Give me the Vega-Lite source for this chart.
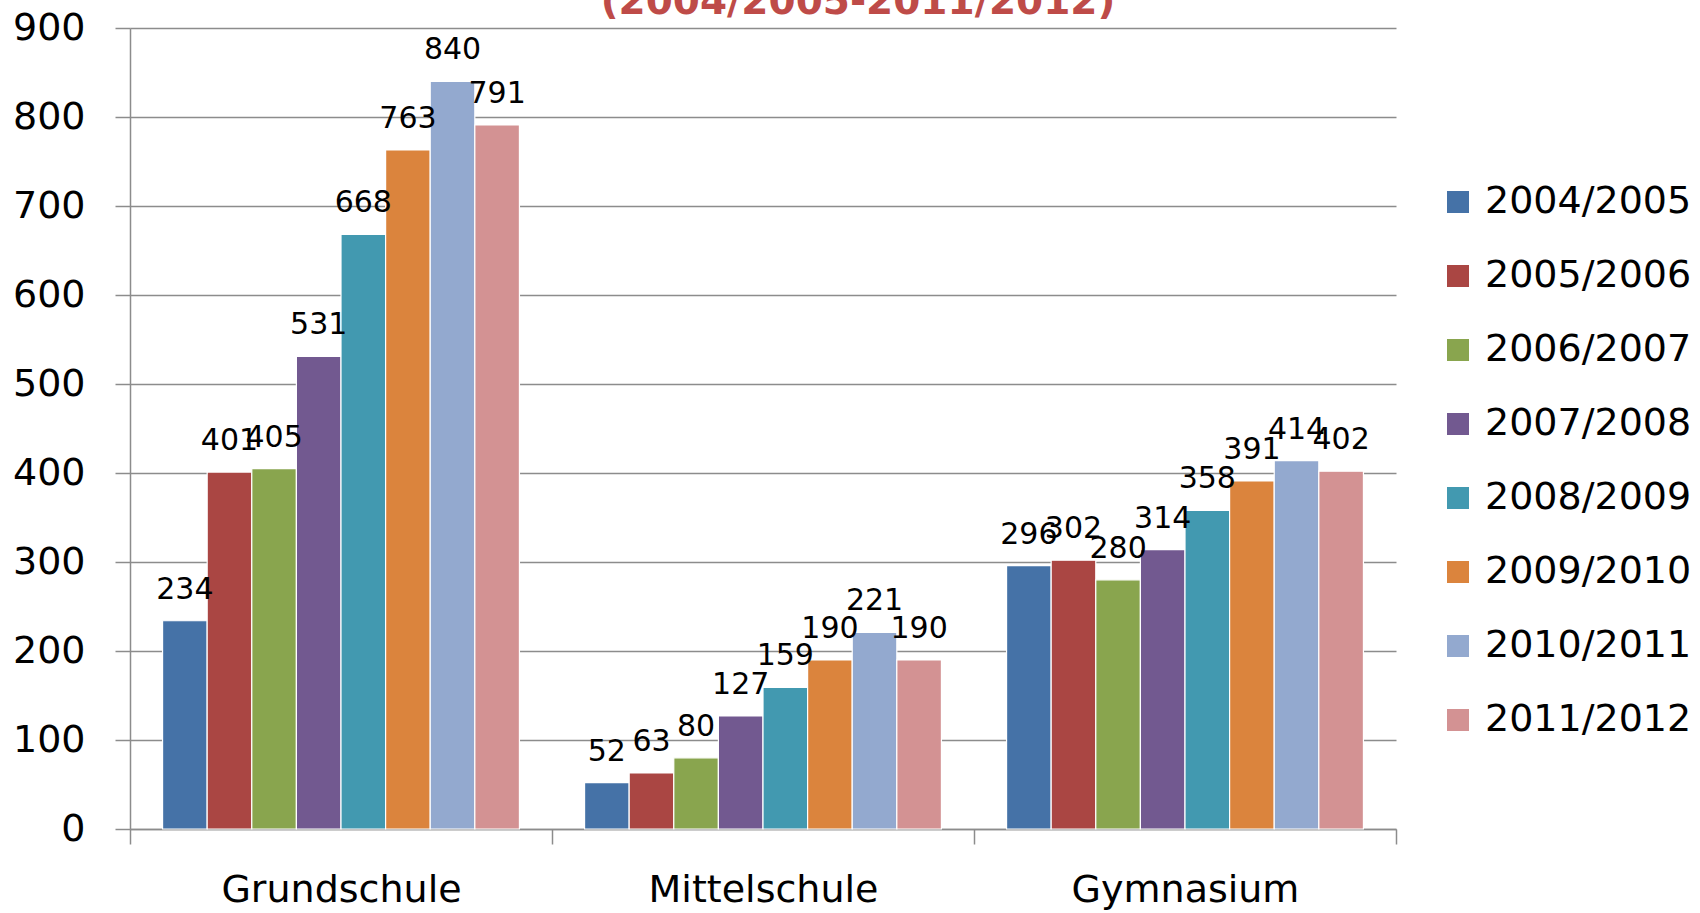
{
  "$schema": "https://vega.github.io/schema/vega-lite/v6.json",
  "autosize": {"type": "none"},
  "width": 1266,
  "height": 801,
  "padding": {"left": 130, "top": 28, "right": 304, "bottom": 84},
  "background": "white",
  "config": {"view": {"stroke": null}},
  "title": {
    "text": "(2004/2005-2011/2012)",
    "orient": "top",
    "anchor": "middle",
    "frame": "group",
    "font": "DejaVu Sans",
    "fontSize": 39,
    "fontWeight": "bold",
    "color": "#BE4B48",
    "baseline": "alphabetic",
    "offset": 0,
    "dx": 95,
    "dy": 44
  },
  "data": {
    "values": [
      {"school": "Grundschule", "year": "2004/2005", "value": 234},
      {"school": "Grundschule", "year": "2005/2006", "value": 401},
      {"school": "Grundschule", "year": "2006/2007", "value": 405},
      {"school": "Grundschule", "year": "2007/2008", "value": 531},
      {"school": "Grundschule", "year": "2008/2009", "value": 668},
      {"school": "Grundschule", "year": "2009/2010", "value": 763},
      {"school": "Grundschule", "year": "2010/2011", "value": 840},
      {"school": "Grundschule", "year": "2011/2012", "value": 791},
      {"school": "Mittelschule", "year": "2004/2005", "value": 52},
      {"school": "Mittelschule", "year": "2005/2006", "value": 63},
      {"school": "Mittelschule", "year": "2006/2007", "value": 80},
      {"school": "Mittelschule", "year": "2007/2008", "value": 127},
      {"school": "Mittelschule", "year": "2008/2009", "value": 159},
      {"school": "Mittelschule", "year": "2009/2010", "value": 190},
      {"school": "Mittelschule", "year": "2010/2011", "value": 221},
      {"school": "Mittelschule", "year": "2011/2012", "value": 190},
      {"school": "Gymnasium", "year": "2004/2005", "value": 296},
      {"school": "Gymnasium", "year": "2005/2006", "value": 302},
      {"school": "Gymnasium", "year": "2006/2007", "value": 280},
      {"school": "Gymnasium", "year": "2007/2008", "value": 314},
      {"school": "Gymnasium", "year": "2008/2009", "value": 358},
      {"school": "Gymnasium", "year": "2009/2010", "value": 391},
      {"school": "Gymnasium", "year": "2010/2011", "value": 414},
      {"school": "Gymnasium", "year": "2011/2012", "value": 402}
    ]
  },
  "encoding": {
    "x": {
      "field": "school",
      "type": "nominal",
      "sort": ["Grundschule", "Mittelschule", "Gymnasium"],
      "scale": {"paddingInner": 0, "paddingOuter": 0},
      "axis": {
        "title": null,
        "labelAngle": 0,
        "labelFont": "DejaVu Sans",
        "labelFontSize": 38,
        "labelLimit": 0,
        "labelColor": "#000000",
        "labelPadding": 27,
        "tickBand": "extent",
        "tickSize": 15,
        "tickColor": "#8c8c8c",
        "tickWidth": 1.5,
        "domainColor": "#8c8c8c",
        "domainWidth": 1.5,
        "grid": false
      }
    },
    "xOffset": {
      "field": "year",
      "type": "nominal",
      "scale": {"paddingInner": 0, "paddingOuter": 0.73}
    },
    "y": {
      "field": "value",
      "type": "quantitative",
      "scale": {"domain": [0, 900], "nice": false},
      "axis": {
        "title": null,
        "values": [0, 100, 200, 300, 400, 500, 600, 700, 800, 900],
        "labelFont": "DejaVu Sans",
        "labelFontSize": 38,
        "labelColor": "#000000",
        "labelPadding": 30,
        "tickSize": 15,
        "tickColor": "#8c8c8c",
        "tickWidth": 1.5,
        "domainColor": "#8c8c8c",
        "domainWidth": 1.5,
        "grid": true,
        "gridColor": "#8c8c8c",
        "gridWidth": 1.5
      }
    }
  },
  "layer": [
    {
      "mark": {"type": "bar", "stroke": "white", "strokeWidth": 1.2},
      "encoding": {
        "color": {
          "field": "year",
          "type": "nominal",
          "scale": {
            "range": ["#4572A7", "#AA4643", "#89A54E", "#725990", "#4299B0", "#DB843D", "#93A9CF", "#D39293"]
          },
          "legend": {
            "title": null,
            "orient": "none",
            "legendX": 1309,
            "legendY": 155,
            "padding": 0,
            "symbolType": "square",
            "symbolSize": 484,
            "symbolStrokeWidth": 0,
            "labelFont": "DejaVu Sans",
            "labelFontSize": 38,
            "labelLimit": 0,
            "labelColor": "#000000",
            "labelOffset": 8,
            "rowPadding": 36
          }
        }
      }
    },
    {
      "mark": {
        "type": "text",
        "font": "DejaVu Sans",
        "fontSize": 30,
        "color": "#000000",
        "baseline": "alphabetic",
        "dy": -22
      },
      "encoding": {
        "text": {"field": "value", "type": "quantitative"}
      }
    }
  ]
}
